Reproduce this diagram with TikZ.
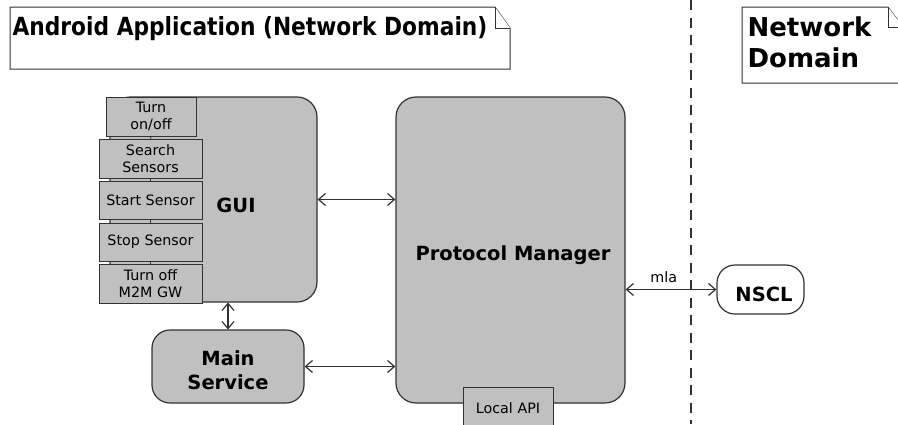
\documentclass[tikz,border=0pt]{standalone}
\usepackage{fontspec}
\setmainfont{DejaVu Sans}
\usetikzlibrary{arrows.meta}
\definecolor{boxgray}{RGB}{192,192,192}
\definecolor{edgegray}{RGB}{50,50,50}
\newcommand{\smallfont}{\fontsize{14.3}{17}\selectfont}
\newcommand{\boldfont}{\fontsize{19.5}{24}\selectfont\bfseries}
\newcommand{\notefont}{\fontsize{26}{31}\selectfont\bfseries}

\begin{document}
\begin{tikzpicture}[x=1pt,y=-1pt,line width=1.2pt,
    box/.style={draw=edgegray,fill=boxgray,rounded corners=20pt,inner sep=0pt,align=center},
    button/.style={draw=edgegray,fill=boxgray,line width=1pt,inner sep=0pt,align=center,font=\smallfont},
    link/.style={draw=edgegray,{Straight Barb[length=7pt,width=12pt]}-{Straight Barb[length=7pt,width=12pt]}},
    note/.style={draw=edgegray,fill=white,line width=1pt}]
  \clip (0,0) rectangle (898,424);

  % notes
  \draw[note] (10,7)--(495,7)--(510,28)--(510,69)--(10,69)--cycle;
  \draw[note] (495,7)--(495,28)--(510,28);
  \node[anchor=base west,inner sep=0pt] (title) at (12,35)
    {\scalebox{0.87}[1]{\fontsize{25}{30}\selectfont\bfseries Android Application (Network Domain)}};

  \draw[note] (742,7)--(888,7)--(903,27)--(903,83)--(742,83)--cycle;
  \draw[note] (888,7)--(888,27)--(903,27);
  \node[anchor=base west,inner sep=0pt,align=left,font=\notefont] (netdomain) at (747,67) {Network\\Domain};

  \draw[edgegray,dash pattern=on 10pt off 7.5pt] (691,0)--(691,424);

  % GUI with its buttons
  \node[box,minimum width=207pt,minimum height=205pt] (gui) at (213.5,199.5) {};
  \node[font=\boldfont] (guilabel) at (236,205) {GUI};

  \node[button,minimum width=90pt,minimum height=39pt] (onoff) at (151,116.5) {Turn\\on/off};
  \node[button,minimum width=103pt,minimum height=39pt] (search) at (150.5,158.5) {Search\\Sensors};
  \node[button,minimum width=103pt,minimum height=38pt] (start) at (150.5,200) {Start Sensor};
  \node[button,minimum width=103pt,minimum height=38pt] (stop) at (150.5,242) {Stop Sensor};
  \node[button,minimum width=103pt,minimum height=39pt] (turnoff) at (150.5,283.5) {Turn off\\M2M GW};
  \foreach \a/\b in {onoff/search,search/start,start/stop,stop/turnoff}
    \draw[edgegray,line width=1pt] (\a) -- (\b);

  \node[box,minimum width=152pt,minimum height=73pt,rounded corners=18pt] (main) at (228,366.5) {};
  \node[font=\boldfont,align=center] (mainlabel) at (228,370) {Main\\Service};

  % protocol manager
  \node[box,minimum width=229pt,minimum height=306pt] (pm) at (510.5,250) {};
  \node[font=\boldfont] (pmlabel) at (513,255) {Protocol Manager};
  \node[button,minimum width=90pt,minimum height=42pt,anchor=north] (api) at (508,387) {Local API};

  \node[box,fill=white,minimum width=87pt,minimum height=49pt,rounded corners=18pt] (nscl) at (760.5,289.5) {};
  \node[font=\boldfont] (nscllabel) at (764,294) {NSCL};

  \draw[link] (gui.east) -- (gui.east -| pm.west);
  \draw[link] (main.east) -- (main.east -| pm.west);
  \draw[link] (main.north |- gui.south) -- (main.north);
  \draw[link] (nscl.west -| pm.east) -- node[pos=0.42,above=3pt,font=\smallfont] (mla) {mla} (nscl.west);
\end{tikzpicture}
\end{document}
